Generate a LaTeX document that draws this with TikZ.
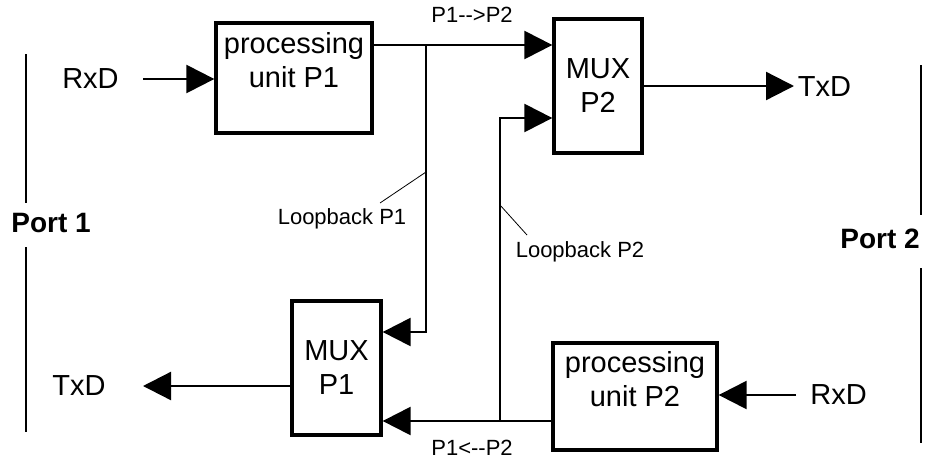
\documentclass[tikz,border=0pt]{standalone}
\usepackage{fontspec}
\setmainfont{Liberation Sans}
\usetikzlibrary{arrows.meta}
\begin{document}
\begin{tikzpicture}[x=1pt,y=-1pt,
    unit/.style={draw,line width=3.3pt,inner sep=0pt},
    big/.style={font=\fontsize{29pt}{34pt}\selectfont},
    small/.style={font=\fontsize{22pt}{26pt}\selectfont},
    port/.style={font=\fontsize{28pt}{34pt}\selectfont\bfseries},
    wire/.style={line width=2.3pt},
    tri/.style={-{Triangle[length=28pt,width=28pt]}},
    lead/.style={line width=0.8pt}]
  \useasboundingbox (0,0) rectangle (928,461);
  \node[unit,minimum width=156pt,minimum height=110pt] (pu1) at (294,78) {};
  \node[big,align=center,anchor=north,inner sep=0pt] (pu1t) at ([yshift=-11pt]pu1.north) {processing\\unit P1};
  \node[unit,minimum width=164pt,minimum height=107pt] (pu2) at (635,396.5) {};
  \node[big,align=center,anchor=north,inner sep=0pt] (pu2t) at ([yshift=-10pt]pu2.north) {processing\\unit P2};
  \node[unit,big,align=center,minimum width=88pt,minimum height=134pt] (mux2) at (598,86) {MUX\\P2};
  \node[unit,big,align=center,minimum width=89pt,minimum height=134pt] (mux1) at (336.5,368) {MUX\\P1};
  \node[big] (rxd1) at (90.5,79) {RxD};
  \node[big] (txd1) at (79,386) {TxD};
  \node[big] (txd2) at (824.5,87) {TxD};
  \node[big] (rxd2) at (838.5,395) {RxD};
  \node[port] (port1) at (51,223) {Port 1};
  \node[port] (port2) at (880,239) {Port 2};
  \node[small] (fwd) at (472,15) {P1-{}->P2};
  \node[small] (bwd) at (472,448) {P1<-{}-P2};
  \node[small] (lbp1) at (342,219) {Loopback P1};
  \node[small] (lbp2) at (580,252) {Loopback P2};
  \coordinate (rin1) at (143,79);
  \coordinate (rin2) at (796,395);
  \coordinate (tout1) at (143,386);
  \coordinate (tout2) at (794,86);
  \coordinate (j1) at (426,45);
  \coordinate (j1b) at (426,332);
  \coordinate (j2) at (500,421);
  \coordinate (j2b) at (500,118);
  \coordinate (lb1) at (426,172);
  \coordinate (lb1e) at (380,203);
  \coordinate (lb2) at (500,205);
  \coordinate (lb2e) at (527,235);
  \begin{scope}[wire]
    \draw[tri] (rin1) to (rin1 -| pu1.west);
    \draw[tri] (rin2) to (rin2 -| pu2.east);
    \draw[tri] (tout1 -| mux1.west) to (tout1);
    \draw[tri] (mux2.east) to (tout2);
    \draw[tri] (pu1.east |- j1) to (j1 -| mux2.west);
    \draw[tri] (j1) -- (j1b) -- (j1b -| mux1.east);
    \draw[tri] (pu2.west |- j2) to (j2 -| mux1.east);
    \draw[tri] (j2) -- (j2b) -- (j2b -| mux2.west);
  \end{scope}
  \draw[lead] (lb1) -- (lb1e);
  \draw[lead] (lb2) -- (lb2e);
  \draw[line width=2.5pt] (26,54) -- (26,203) (26,247) -- (26,432);
  \draw[line width=2.5pt] (921,65) -- (921,215) (921,268) -- (921,443);
\end{tikzpicture}
\end{document}
